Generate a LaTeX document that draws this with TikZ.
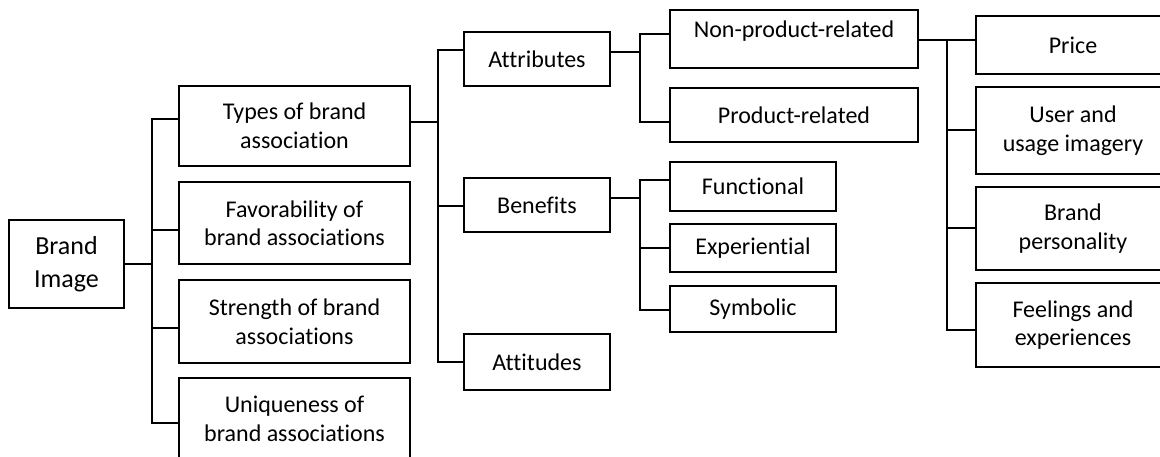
\documentclass[tikz,border=0pt]{standalone}
\usepackage{fontspec}
\setmainfont{Carlito}[Ligatures={NoCommon}]
\begin{document}
\begin{tikzpicture}[x=1pt,y=-1pt,
  box/.style={draw, line width=1.9pt, inner sep=0pt, align=center,
    font=\fontsize{24}{28.5}\selectfont},
  link/.style={line width=1.9pt}]
\useasboundingbox (0,0) rectangle (1160,456);
\begin{scope}
\clip (0,0) rectangle (1160,456);
% boxes
\node[box, minimum width=115pt, minimum height=88pt, font=\fontsize{26}{33}\selectfont] (bi) at (66.5,264) {Brand\\Image};
\node[box, minimum width=231pt, minimum height=80pt] (types) at (294.5,126) {Types of brand\\association};
\node[box, minimum width=231pt, minimum height=82pt] (fav) at (294.5,223) {Favorability of\\brand associations};
\node[box, minimum width=231pt, minimum height=83pt] (str) at (294.5,321.5) {Strength of brand\\associations};
\node[box, minimum width=231pt, minimum height=82pt] (uni) at (294.5,419) {Uniqueness of\\brand associations};
\node[box, minimum width=146pt, minimum height=54pt] (attr) at (537,59) {Attributes};
\node[box, minimum width=146pt, minimum height=54pt] (ben) at (537,205) {Benefits};
\node[box, minimum width=146pt, minimum height=56pt] (atti) at (537,362) {Attitudes};
\node[box, minimum width=248pt, minimum height=58pt,
  label={[font=\fontsize{24}{28.5}\selectfont, yshift=8pt]center:Non-product-related}] (nonp) at (794,39) {};
\node[box, minimum width=248pt, minimum height=54pt] (prod) at (794,115) {Product-related};
\node[box, minimum width=166pt, minimum height=49pt] (func) at (753,186.5) {Functional};
\node[box, minimum width=166pt, minimum height=48pt] (exp) at (753,248) {Experiential};
\node[box, minimum width=166pt, minimum height=46pt] (sym) at (753,309) {Symbolic};
\node[box, minimum width=194pt, minimum height=58pt] (price) at (1073,45) {Price};
\node[box, minimum width=194pt, minimum height=87pt] (user) at (1073,130.5) {User and\\usage imagery};
\node[box, minimum width=194pt, minimum height=83pt] (pers) at (1073,228.5) {Brand\\personality};
\node[box, minimum width=194pt, minimum height=84pt] (feel) at (1073,325) {Feelings and\\experiences};
% junction coordinates
\coordinate (a0) at (152,264);
\coordinate (a1) at (152,119);
\coordinate (a2) at (152,230);
\coordinate (a3) at (152,328);
\coordinate (a4) at (152,423);
\coordinate (b0) at (438,122);
\coordinate (b1) at (438,50);
\coordinate (b2) at (438,206);
\coordinate (b3) at (438,362);
\coordinate (c0) at (640,52);
\coordinate (c1) at (640,34);
\coordinate (c2) at (640,122);
\coordinate (d0) at (640,198);
\coordinate (d1) at (640,180);
\coordinate (d2) at (640,248);
\coordinate (d3) at (640,310);
\coordinate (e0) at (947,40);
\coordinate (e1) at (947,130);
\coordinate (e2) at (947,228);
\coordinate (e3) at (947,330);
% connectors
\draw[link] (bi.east) -- (a0);
\draw[link] (a1 -| types.west) -- (a1) -- (a4) -- (a4 -| uni.west);
\draw[link] (a2) -- (a2 -| fav.west);
\draw[link] (a3) -- (a3 -| str.west);
\draw[link] (b0 -| types.east) -- (b0);
\draw[link] (b1 -| attr.west) -- (b1) -- (b3) -- (b3 -| atti.west);
\draw[link] (b2) -- (b2 -| ben.west);
\draw[link] (c0 -| attr.east) -- (c0);
\draw[link] (c1 -| nonp.west) -- (c1) -- (c2) -- (c2 -| prod.west);
\draw[link] (d0 -| ben.east) -- (d0);
\draw[link] (d1 -| func.west) -- (d1) -- (d3) -- (d3 -| sym.west);
\draw[link] (d2) -- (d2 -| exp.west);
\draw[link] (e0 -| nonp.east) -- (e0 -| price.west);
\draw[link] (e0) -- (e3) -- (e3 -| feel.west);
\draw[link] (e1) -- (e1 -| user.west);
\draw[link] (e2) -- (e2 -| pers.west);
\end{scope}
\end{tikzpicture}
\end{document}
